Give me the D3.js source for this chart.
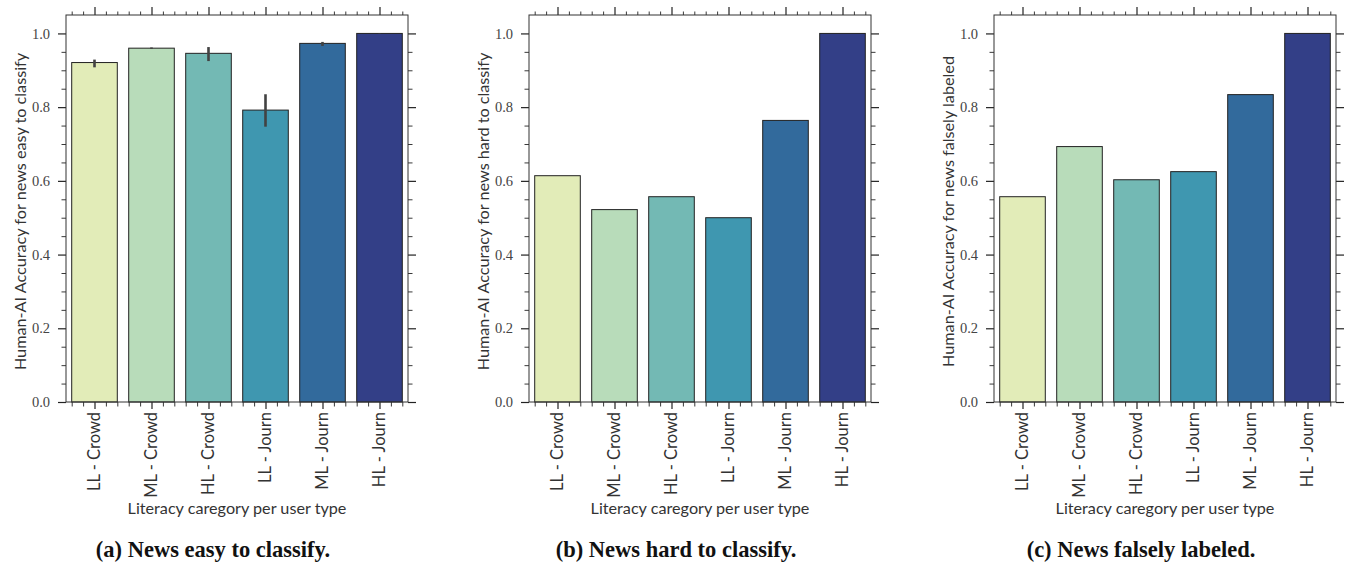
<!DOCTYPE html>
<html>
<head>
<meta charset="utf-8">
<script src="https://cdn.jsdelivr.net/npm/d3@7"></script>
<style>
    body { margin: 0; background: #fff; }
</style>
</head>
<body>
<svg id="chart" width="1355" height="571"></svg>
<script>
const categories = ["LL - Crowd", "ML - Crowd", "HL - Crowd", "LL - Journ", "ML - Journ", "HL - Journ"];
const barColors = ["#e2ecb8", "#b8dcba", "#73b9b4", "#3f97b0", "#326a9c", "#333f87"];

const easyValues = [0.921, 0.960, 0.946, 0.792, 0.973, 1.0];
const easyErrLow = [0.908, 0.958, 0.925, 0.747, 0.966, 0.999];
const easyErrHigh = [0.929, 0.962, 0.963, 0.835, 0.977, 1.0];
const hardValues = [0.614, 0.522, 0.557, 0.500, 0.764, 1.0];
const falseValues = [0.557, 0.693, 0.603, 0.625, 0.834, 1.0];

const yTicks = [0, 0.2, 0.4, 0.6, 0.8, 1.0];
const yLabels = [
    "Human-AI Accuracy for news easy to classify",
    "Human-AI Accuracy for news hard to classify",
    "Human-AI Accuracy for news falsely labeled"
];
const captions = [
    "(a) News easy to classify.",
    "(b) News hard to classify.",
    "(c) News falsely labeled."
];
const xTitle = "Literacy caregory per user type";

const PANEL_LEFT = [66, 529, 994];
const PANEL_W = 342;
const TOP = 15, BOTTOM = 402;
const SANS = "Lato, 'Open Sans', sans-serif";
const SERIF = "'Liberation Serif', 'Times New Roman', serif";

const SVG = d3.select("#chart");

const panels = [
    { values: easyValues, lo: easyErrLow, hi: easyErrHigh },
    { values: hardValues },
    { values: falseValues }
];

panels.forEach((p, k) => {
    const g = SVG.append("g").attr("transform", `translate(${PANEL_LEFT[k]},0)`);
    const x = d3.scaleLinear().domain([-0.5, categories.length - 0.5]).range([0, PANEL_W]);
    const y = d3.scaleLinear().domain([0, 1.05]).range([BOTTOM, TOP]);

    const xMajor = d3.range(categories.length);
    const xMinor = d3.range(-0.4, categories.length - 0.5, 0.2)
        .map(v => Math.round(v * 10) / 10)
        .filter(v => Math.abs(v - Math.round(v)) > 0.01);
    const yMinor = d3.range(0.05, 1.04, 0.05)
        .map(v => Math.round(v * 100) / 100)
        .filter(v => !yTicks.some(t => Math.abs(t - v) < 0.001));

    // bars
    g.selectAll("rect.bar")
        .data(p.values)
        .join("rect")
        .attr("class", "bar")
        .attr("x", (d, i) => x(i - 0.4))
        .attr("width", x(0.8) - x(0))
        .attr("y", d => y(d))
        .attr("height", d => y(0) - y(d))
        .attr("fill", (d, i) => barColors[i])
        .attr("stroke", "#222")
        .attr("stroke-width", 1);

    // error bars (only panel a)
    if (p.lo) {
        g.selectAll("line.err")
            .data(p.values)
            .join("line")
            .attr("class", "err")
            .attr("x1", (d, i) => x(i))
            .attr("x2", (d, i) => x(i))
            .attr("y1", (d, i) => y(p.lo[i]))
            .attr("y2", (d, i) => y(p.hi[i]))
            .attr("stroke", "#424242")
            .attr("stroke-width", 2.6);
    }

    // axes: majors and minors on all four sides
    const addAxis = (axis, tf, w) => {
        const a = g.append("g").attr("transform", tf).call(axis);
        a.select(".domain").remove();
        a.selectAll("line").attr("stroke", "#222").attr("stroke-width", w);
        return a;
    };

    const left = addAxis(d3.axisLeft(y).tickValues(yTicks).tickSize(8).tickPadding(8).tickFormat(d3.format(".1f")), "translate(0,0)", 1.2);
    left.selectAll("text")
        .attr("font-family", SERIF)
        .attr("font-size", 14.5)
        .attr("fill", "#444");
    addAxis(d3.axisLeft(y).tickValues(yMinor).tickSize(4.5).tickFormat(""), "translate(0,0)", 0.9);

    addAxis(d3.axisRight(y).tickValues(yTicks).tickSize(8).tickFormat(""), `translate(${PANEL_W},0)`, 1.2);
    addAxis(d3.axisRight(y).tickValues(yMinor).tickSize(4.5).tickFormat(""), `translate(${PANEL_W},0)`, 0.9);

    const bottom = addAxis(d3.axisBottom(x).tickValues(xMajor).tickSize(7).tickFormat(i => categories[i]), `translate(0,${BOTTOM})`, 1.2);
    bottom.selectAll("text")
        .attr("font-family", SANS)
        .attr("font-size", 16.5)
        .attr("fill", "#333")
        .attr("transform", "rotate(-90)")
        .attr("x", -10)
        .attr("y", 0)
        .attr("dy", "0.32em")
        .attr("text-anchor", "end");
    addAxis(d3.axisBottom(x).tickValues(xMinor).tickSize(4.5).tickFormat(""), `translate(0,${BOTTOM})`, 0.9);

    addAxis(d3.axisTop(x).tickValues(xMajor).tickSize(8).tickFormat(""), `translate(0,${TOP})`, 1.2);
    addAxis(d3.axisTop(x).tickValues(xMinor).tickSize(3.5).tickFormat(""), `translate(0,${TOP})`, 0.9);

    // frame
    g.append("rect")
        .attr("x", 0).attr("y", TOP)
        .attr("width", PANEL_W).attr("height", BOTTOM - TOP)
        .attr("fill", "none")
        .attr("stroke", "#333")
        .attr("stroke-width", 1);

    // titles
    g.append("text")
        .attr("font-family", SANS)
        .attr("font-size", 16.2)
        .attr("fill", "#333")
        .attr("text-anchor", "middle")
        .attr("transform", `translate(${-46},${(TOP + BOTTOM) / 2 + 3}) rotate(-90)`)
        .attr("dy", "0.35em")
        .text(yLabels[k]);

    g.append("text")
        .attr("font-family", SANS)
        .attr("font-size", 16.2)
        .attr("fill", "#333")
        .attr("text-anchor", "middle")
        .attr("x", PANEL_W / 2)
        .attr("y", 514)
        .text(xTitle);

    g.append("text")
        .attr("font-family", SERIF)
        .attr("font-weight", "bold")
        .attr("font-size", 22.5)
        .attr("fill", "#111")
        .attr("text-anchor", "middle")
        .attr("x", PANEL_W / 2 - 24)
        .attr("y", 557)
        .text(captions[k]);
});
</script>
</body>
</html>
